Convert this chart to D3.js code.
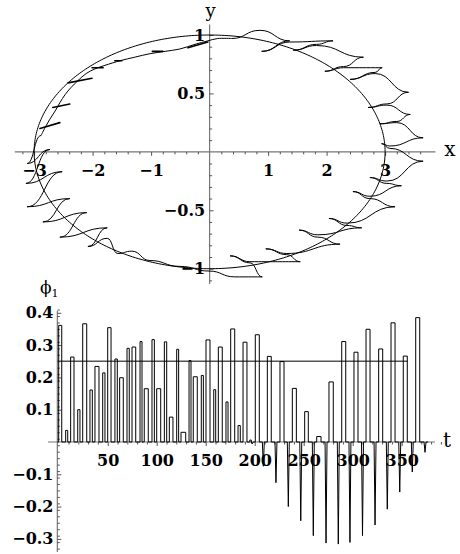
<!DOCTYPE html>
<html>
<head>
<meta charset="utf-8">
<script src="https://cdn.jsdelivr.net/npm/d3@7"></script>
<style>
  body { margin: 0; background: #fff; }
  svg { display: block; }
  text { font-family: "DejaVu Serif", serif; fill: #000; }
</style>
</head>
<body>
<svg id="chart" width="460" height="554"></svg>
<script>
// ---------- upper panel: orbit in the (x, y) plane ----------
const xTickVals = [-3, -2, -1, 1, 2, 3];
const yTickVals = [-1, -0.5, 0.5, 1];
const ellipseAxes = [3, 1];               // semi-axes of the reference orbit

// quiet stretch of the trajectory (upper left), running inside the orbit
const driftX = [0.38, 0.14, -0.03, -0.25, -0.51, -0.76, -1.02, -1.28, -1.53, -1.79, -1.96, -2.11, -2.25,
  -2.37, -2.47, -2.56, -2.64, -2.73, -2.81, -2.88];
const driftY = [0.97, 0.97, 0.95, 0.92, 0.88, 0.86, 0.84, 0.81, 0.78, 0.74, 0.71, 0.67, 0.61,
  0.55, 0.49, 0.42, 0.35, 0.28, 0.21, 0.14];
// short kicks along that stretch (start and end of each)
const kickX0 = [-0.37, -0.98, -1.62, -2.01, -2.42, -2.68, -2.90];
const kickY0 = [0.89, 0.86, 0.78, 0.72, 0.59, 0.38, 0.20];
const kickX1 = [-0.03, -0.80, -1.50, -1.82, -2.01, -2.39, -2.56];
const kickY1 = [0.94, 0.86, 0.78, 0.72, 0.63, 0.41, 0.25];

// turning points (cusps) of the rest of the trajectory, counter-clockwise from the left
const cuspX = [-2.88, -3.12, -2.73, -3.14, -2.52, -3.12, -2.39, -2.85, -2.10, -2.56, -1.75, -2.08, -1.75, -1.57, -1.33,
  -1.02, -0.51, -0.01, 0.43, 0.90,
  0.69, 0.35, 0.69, 1.55, 1.32, 0.96, 1.32, 2.23, 1.85, 1.53, 1.85, 2.60, 2.35, 2.04, 2.35, 3.17,
  2.74, 2.45, 2.74, 3.28, 3.03, 2.74, 3.03, 3.65,
  3.08, 2.94, 3.08, 3.65, 3.20, 2.91, 3.20, 3.43, 3.03, 2.71, 3.03, 3.40, 2.83, 2.40, 2.83, 2.95,
  2.29, 1.97, 2.29, 2.63, 1.83, 1.43, 1.83, 2.11, 1.37, 0.89, 1.37, 0.86, 0.38];
const cuspY = [0.14, -0.10, 0.02, -0.27, -0.17, -0.47, -0.40, -0.60, -0.52, -0.73, -0.65, -0.81, -0.74, -0.87, -0.85,
  -0.93, -0.98, -1.02, -1.07, -1.07,
  -0.95, -0.89, -0.94, -0.94, -0.88, -0.83, -0.87, -0.79, -0.73, -0.67, -0.71, -0.65, -0.63, -0.57, -0.61, -0.47,
  -0.40, -0.34, -0.38, -0.29, -0.27, -0.22, -0.25, -0.08,
  0.03, 0.07, 0.05, 0.12, 0.25, 0.24, 0.26, 0.32, 0.40, 0.38, 0.41, 0.51, 0.67, 0.62, 0.68, 0.72,
  0.72, 0.69, 0.73, 0.81, 0.91, 0.87, 0.92, 0.95, 0.94, 0.86, 0.95, 1.04, 0.97];

// ---------- lower panel: phi_1 against t ----------
const tTickVals = [50, 100, 150, 200, 250, 300, 350];
const phiTickVals = [-0.3, -0.2, -0.1, 0.1, 0.2, 0.3, 0.4];
const pulseStart = [0, 7.1, 12.2, 19.4, 24.5, 31.9, 37.0, 44.9, 50.0, 57.4, 62.2, 69.7, 74.8, 83.0, 87.3, 95.2,
  100.0, 107.8, 112.9, 120.4, 124.8, 133.0, 137.3, 145.5, 150.3, 158.2, 162.9, 170.7, 175.5, 183.0, 188.1,
  195.0, 200.6, 212.9, 225.8, 238.4, 251.0, 263.3, 275.8, 288.8, 301.3, 313.6, 326.5, 339.1, 351.6, 364.3];
const pulseEnd = [3.1, 9.2, 15.6, 21.7, 28.6, 34.3, 41.1, 47.2, 53.4, 59.8, 65.9, 72.0, 78.6, 85.0, 91.4, 97.6,
  104.1, 110.2, 116.6, 122.4, 129.6, 135.0, 141.4, 147.6, 154.4, 160.2, 166.9, 172.8, 179.6, 185.3, 192.1,
  196.6, 204.7, 216.9, 229.9, 242.5, 254.7, 267.7, 280.2, 292.9, 305.4, 317.7, 330.6, 343.2, 355.7, 368.4];
const pulseHeight = [0.361, 0.036, 0.263, 0.100, 0.366, 0.161, 0.234, 0.214, 0.354, 0.257, 0.199, 0.290, 0.294,
  0.311, 0.165, 0.317, 0.165, 0.310, 0.077, 0.287, 0.030, 0.252, 0.202, 0.206, 0.316, 0.162, 0.294, 0.124,
  0.350, 0.051, 0.309, 0.006, 0.332, 0.265, 0.249, 0.166, 0.094, 0.017, 0.186, 0.311, 0.278, 0.349, 0.288,
  0.369, 0.266, 0.385];
const dipTime = [197.4, 208.8, 221.7, 234.3, 247.0, 259.8, 272.8, 285.3, 297.2, 310.0, 322.8, 335.3, 348.0, 360.8, 373.8];
const dipDepth = [-0.006, -0.075, -0.126, -0.200, -0.244, -0.290, -0.313, -0.316, -0.311, -0.290, -0.257, -0.208,
  -0.155, -0.093, -0.032];
const phiLevel = 0.25;
const phiLevelEnd = 356;

const svg = d3.select("#chart");
const FONT = 16;

// ===== upper panel =====
const x = d3.scaleLinear([-3, 3], [34.1, 385.1]);
const y = d3.scaleLinear([-1, 1], [268.7, 35]);
const upper = svg.append("g");

// axes lines
upper.append("line").attr("x1", x(-3.33)).attr("x2", x(3.86)).attr("y1", y(0)).attr("y2", y(0))
  .attr("stroke", "#777").attr("stroke-width", 1.2);
upper.append("line").attr("x1", x(0)).attr("x2", x(0)).attr("y1", y(1.09)).attr("y2", y(-1.13))
  .attr("stroke", "#777").attr("stroke-width", 1.2);

// x ticks (point down), minor every 0.2
const xMinor = d3.range(-16, 19).map(v => v / 5).filter(v => Math.abs(v - Math.round(v)) > 0.01);
upper.append("g").attr("transform", `translate(0,${y(0)})`)
  .call(d3.axisBottom(x).tickValues(xMinor).tickSize(2.5).tickFormat(""))
  .call(g => g.select(".domain").remove());
upper.append("g").attr("transform", `translate(0,${y(0)})`)
  .call(d3.axisBottom(x).tickValues(xTickVals).tickSize(4).tickPadding(6).tickFormat(d3.format("d")))
  .call(g => g.select(".domain").remove())
  .call(g => g.selectAll("text").attr("font-size", FONT).attr("font-weight", "bold")
    .attr("font-family", "DejaVu Serif").attr("dy", "0.9em"));

// y ticks (point right), minor every 0.1
const yMinor = d3.range(-11, 11).map(v => v / 10).filter(v => Math.abs(v * 2 - Math.round(v * 2)) > 0.01);
upper.append("g").attr("transform", `translate(${x(0)},0)`)
  .call(d3.axisRight(y).tickValues(yMinor).tickSize(2.5).tickFormat(""))
  .call(g => g.select(".domain").remove());
upper.append("g").attr("transform", `translate(${x(0)},0)`)
  .call(d3.axisRight(y).tickValues(yTickVals).tickSize(4).tickFormat(""))
  .call(g => g.select(".domain").remove());
upper.selectAll(".ylab").data(yTickVals).join("text")
  .attr("x", x(0) - 4.5).attr("y", d => y(d))
  .attr("text-anchor", "end").attr("dominant-baseline", "central")
  .attr("font-size", FONT).attr("font-weight", "bold")
  .text(d => d3.format("")(d));

upper.selectAll(".tick line").attr("stroke", "#555");

// reference ellipse
const angles = d3.range(0, 2 * Math.PI + 0.001, Math.PI / 180);
upper.append("path")
  .attr("d", d3.line().x(a => x(ellipseAxes[0] * Math.cos(a))).y(a => y(ellipseAxes[1] * Math.sin(a)))(angles))
  .attr("fill", "none").attr("stroke", "#000").attr("stroke-width", 1);

// trajectory, smooth stretch
const driftPts = driftX.map((v, i) => [v, driftY[i]]);
upper.append("path")
  .attr("d", d3.line().x(d => x(d[0])).y(d => y(d[1])).curve(d3.curveCatmullRom.alpha(0.5))(driftPts))
  .attr("fill", "none").attr("stroke", "#000").attr("stroke-width", 1);

// kicks on the smooth stretch (traced out and back, so they look heavier)
upper.selectAll(".kick").data(kickX0).join("line")
  .attr("x1", (d, i) => x(kickX0[i])).attr("y1", (d, i) => y(kickY0[i]))
  .attr("x2", (d, i) => x(kickX1[i])).attr("y2", (d, i) => y(kickY1[i]))
  .attr("stroke", "#000").attr("stroke-width", 1.6).attr("stroke-linecap", "round");

// trajectory with cusps: arcs leave and meet every turning point tangentially
const cuspPts = cuspX.map((v, i) => [v, cuspY[i]]);
upper.append("path")
  .attr("d", d3.line().x(d => x(d[0])).y(d => y(d[1])).curve(d3.curveBumpX)(cuspPts))
  .attr("fill", "none").attr("stroke", "#000").attr("stroke-width", 1);

// axis names
upper.append("text").attr("x", 450).attr("y", 156).attr("text-anchor", "middle")
  .attr("font-size", 20).text("x");
upper.append("text").attr("x", 210.5).attr("y", 17).attr("text-anchor", "middle")
  .attr("font-size", 18).text("y");

// ===== lower panel =====
const t = d3.scaleLinear([0, 350], [58.7, 401.7]);
const p = d3.scaleLinear([-0.3, 0.4], [538.9, 312.8]);
const lower = svg.append("g");
const axisX = t(-1.4);

// t axis and phi axis
lower.append("line").attr("x1", 48).attr("x2", 435).attr("y1", p(0)).attr("y2", p(0))
  .attr("stroke", "#777").attr("stroke-width", 1.2);
lower.append("line").attr("x1", axisX).attr("x2", axisX).attr("y1", 311).attr("y2", 552)
  .attr("stroke", "#777").attr("stroke-width", 1.2);

const tMinor = d3.range(10, 430, 10).filter(v => v % 50 !== 0);
lower.append("g").attr("transform", `translate(0,${p(0)})`)
  .call(d3.axisBottom(t).tickValues(tMinor).tickSize(2.5).tickFormat(""))
  .call(g => g.select(".domain").remove());
lower.append("g").attr("transform", `translate(0,${p(0)})`)
  .call(d3.axisBottom(t).tickValues(tTickVals).tickSize(4).tickPadding(6).tickFormat(d3.format("d")))
  .call(g => g.select(".domain").remove())
  .call(g => g.selectAll("text").attr("font-size", FONT).attr("font-weight", "bold")
    .attr("font-family", "DejaVu Serif").attr("dy", "0.9em"));

const pMinor = d3.range(-33, 42, 2).map(v => v / 100).filter(v => Math.round(v * 100) % 10 !== 0);
lower.append("g").attr("transform", `translate(${axisX},0)`)
  .call(d3.axisRight(p).tickValues(pMinor).tickSize(2.5).tickFormat(""))
  .call(g => g.select(".domain").remove());
lower.append("g").attr("transform", `translate(${axisX},0)`)
  .call(d3.axisRight(p).tickValues(phiTickVals).tickSize(4).tickFormat(""))
  .call(g => g.select(".domain").remove());
lower.selectAll(".plab").data(phiTickVals).join("text")
  .attr("x", 53.5).attr("y", d => p(d))
  .attr("text-anchor", "end").attr("dominant-baseline", "central")
  .attr("font-size", FONT).attr("font-weight", "bold")
  .text(d => d3.format("")(d));
lower.selectAll(".tick line").attr("stroke", "#555");

// reference level
lower.append("line").attr("x1", axisX).attr("x2", t(phiLevelEnd)).attr("y1", p(phiLevel)).attr("y2", p(phiLevel))
  .attr("stroke", "#555").attr("stroke-width", 1.4);

// phi_1 series: rectangular pulses and narrow negative spikes
const events = pulseStart.map((s, i) => ({ at: s, kind: "pulse", s, e: pulseEnd[i], h: pulseHeight[i] }))
  .concat(dipTime.map((c, i) => ({ at: c - 1, kind: "dip", c, d: dipDepth[i] })))
  .sort((a, b) => a.at - b.at);
const series = [[-1.4, 0]];
events.forEach(ev => {
  if (ev.kind === "pulse") {
    series.push([ev.s, 0], [ev.s, ev.h], [ev.e, ev.h], [ev.e, 0]);
  } else {
    series.push([ev.c - 1, 0], [ev.c, ev.d], [ev.c + 1, 0]);
  }
});
series.push([377, 0]);
lower.append("path")
  .attr("d", d3.line().x(d => t(d[0])).y(d => p(d[1]))(series))
  .attr("fill", "none").attr("stroke", "#000").attr("stroke-width", 1);

// axis names
lower.append("text").attr("x", 447).attr("y", 447).attr("text-anchor", "middle")
  .attr("font-size", 20).text("t");
const phiLab = lower.append("text").attr("x", 40).attr("y", 293).attr("font-size", 17);
phiLab.append("tspan").text("ϕ");
phiLab.append("tspan").attr("font-size", 11).attr("dy", 4).text("1");
</script>
</body>
</html>
